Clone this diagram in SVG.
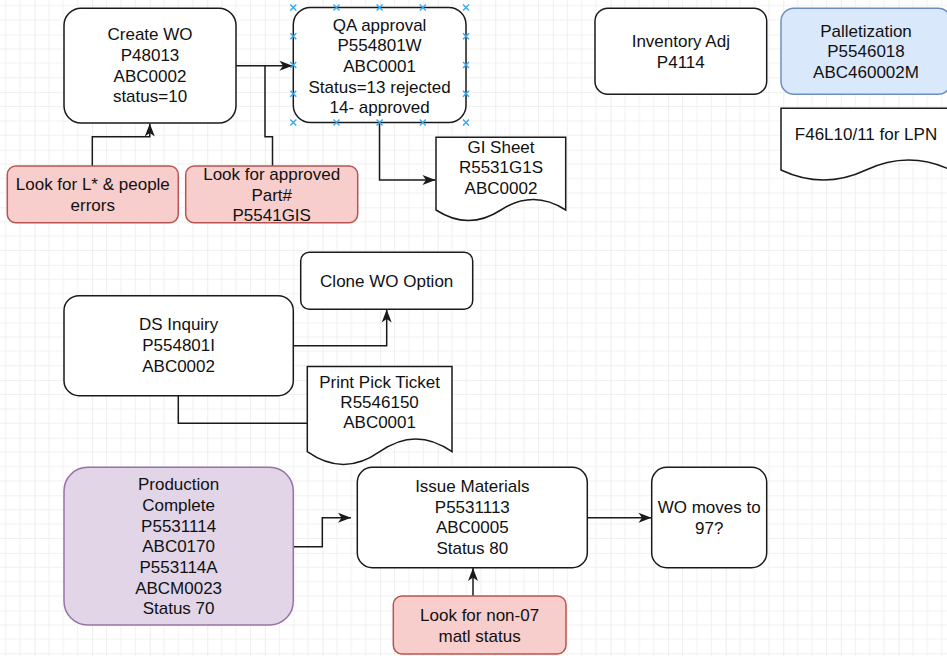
<svg xmlns="http://www.w3.org/2000/svg" width="947" height="656" viewBox="0 0 947 656">
  <style>
    .box { fill: #ffffff; stroke: #1a1a1a; stroke-width: 1.5; }
    .warn { fill: #f8cecc; stroke: #b85450; stroke-width: 1.5; }
    .blue { fill: #dae8fc; stroke: #6c8ebf; stroke-width: 1.5; }
    .purple { fill: #e1d5e7; stroke: #9673a6; stroke-width: 1.5; }
    .lbl { font-family: "Liberation Sans", Arial, sans-serif; font-size: 17px; fill: #111111; text-anchor: middle; }
    .edge { fill: none; stroke: #1a1a1a; stroke-width: 1.5; }
    .pt { fill: none; stroke: #35a8ee; stroke-width: 1.4; }
  </style>
  <defs>
    <pattern id="grid" patternUnits="userSpaceOnUse" x="34.5" y="34.5" width="57.6" height="57.6">
      <path d="M14.4,0 V57.6 M28.8,0 V57.6 M43.2,0 V57.6 M0,14.4 H57.6 M0,28.8 H57.6 M0,43.2 H57.6" stroke="#f1f1f1" stroke-width="1" fill="none"/>
      <path d="M0,0 V57.6 M0,0 H57.6" stroke="#e2e2e2" stroke-width="1.2" fill="none"/>
    </pattern>
    <marker id="arrow" markerUnits="userSpaceOnUse" markerWidth="15" markerHeight="12" refX="14" refY="6" orient="auto">
      <path d="M1,1 L14,6 L1,11 L4.5,6 Z" fill="#1a1a1a"/>
    </marker>
    <path id="cross" d="M-3,-3 L3,3 M-3,3 L3,-3"/>
  </defs>

  <rect x="0" y="0" width="947" height="656" fill="#ffffff"/>
  <rect x="0" y="0" width="947" height="656" fill="url(#grid)"/>

  <!-- connectors -->
  <g id="connectors">
    <path class="edge" d="M236,65.7 H292.5" marker-end="url(#arrow)"/>
    <path class="edge" d="M272.5,166 V136.7 H265 V65.7"/>
    <path class="edge" d="M92.3,166 V136.7 H149.8 V123.5" marker-end="url(#arrow)"/>
    <path class="edge" d="M379.5,122.5 V180 H435.5" marker-end="url(#arrow)"/>
    <path class="edge" d="M293.3,345.7 H386.7 V309.5" marker-end="url(#arrow)"/>
    <path class="edge" d="M178.3,395.7 V423.3 H307.3"/>
    <path class="edge" d="M293.3,546.7 H322.3 V517.7 H351" marker-end="url(#arrow)"/>
    <path class="edge" d="M587.3,517.7 H651.5" marker-end="url(#arrow)"/>
    <path class="edge" d="M473,596 V568" marker-end="url(#arrow)"/>
  </g>

  <g id="create-wo">
    <rect class="box" x="64" y="8.3" width="172" height="114.7" rx="17.2"/>
    <text class="lbl"><tspan x="150" y="40">Create WO</tspan><tspan x="150" y="60.8">P48013</tspan><tspan x="150" y="81.6">ABC0002</tspan><tspan x="150" y="102.4">status=10</tspan></text>
  </g>

  <g id="qa-approval">
    <rect class="box" x="293.3" y="7.5" width="172.7" height="115" rx="17.2"/>
    <text class="lbl"><tspan x="379.6" y="30.5">QA approval</tspan><tspan x="379.6" y="51.2">P554801W</tspan><tspan x="379.6" y="71.9">ABC0001</tspan><tspan x="379.6" y="92.6">Status=13 rejected</tspan><tspan x="379.6" y="113.3">14- approved</tspan></text>
    <g class="pt">
      <use href="#cross" x="293.3" y="7.5"/><use href="#cross" x="336.5" y="7.5"/><use href="#cross" x="379.6" y="7.5"/><use href="#cross" x="422.8" y="7.5"/><use href="#cross" x="466" y="7.5"/>
      <use href="#cross" x="293.3" y="122.5"/><use href="#cross" x="336.5" y="122.5"/><use href="#cross" x="379.6" y="122.5"/><use href="#cross" x="422.8" y="122.5"/><use href="#cross" x="466" y="122.5"/>
      <use href="#cross" x="293.3" y="36.2"/><use href="#cross" x="293.3" y="65"/><use href="#cross" x="293.3" y="93.8"/>
      <use href="#cross" x="466" y="36.2"/><use href="#cross" x="466" y="65"/><use href="#cross" x="466" y="93.8"/>
    </g>
  </g>

  <g id="inventory-adj">
    <rect class="box" x="595" y="8.3" width="171.7" height="86" rx="12.9"/>
    <text class="lbl"><tspan x="680.8" y="47">Inventory Adj</tspan><tspan x="680.8" y="67.7">P4114</tspan></text>
  </g>

  <g id="palletization">
    <rect class="blue" x="781" y="8.3" width="170" height="86" rx="12.9"/>
    <text class="lbl"><tspan x="866" y="36.6">Palletization</tspan><tspan x="866" y="57.3">P5546018</tspan><tspan x="866" y="78">ABC460002M</tspan></text>
  </g>

  <g id="lpn-doc">
    <path class="box" d="M781,108.3 H951 V170 Q908.5,150 866,170 Q823.5,190 781,170 Z"/>
    <text class="lbl"><tspan x="866" y="140.3">F46L10/11 for LPN</tspan></text>
  </g>

  <g id="gi-sheet">
    <path class="box" d="M436,137.3 H565.7 V210 Q533.3,189 500.9,210 Q468.4,231 436,210 Z"/>
    <text class="lbl"><tspan x="501" y="152.7">GI Sheet</tspan><tspan x="501" y="173.4">R5531G1S</tspan><tspan x="501" y="194.1">ABC0002</tspan></text>
  </g>

  <g id="look-people-errors">
    <rect class="warn" x="7.3" y="166" width="171" height="56.7" rx="8.5"/>
    <text class="lbl"><tspan x="92.8" y="190">Look for L* &amp; people</tspan><tspan x="92.8" y="210.7">errors</tspan></text>
  </g>

  <g id="look-approved-part">
    <rect class="warn" x="185.7" y="166" width="172" height="56.7" rx="8.5"/>
    <text class="lbl"><tspan x="271.7" y="180">Look for approved</tspan><tspan x="271.7" y="200.7">Part#</tspan><tspan x="271.7" y="221.4">P5541GIS</tspan></text>
  </g>

  <g id="clone-wo">
    <rect class="box" x="300.7" y="252.3" width="172" height="57" rx="8.6"/>
    <text class="lbl"><tspan x="386.7" y="286.7">Clone WO Option</tspan></text>
  </g>

  <g id="ds-inquiry">
    <rect class="box" x="64" y="295.7" width="229.3" height="100" rx="15"/>
    <text class="lbl"><tspan x="178.6" y="330.3">DS Inquiry</tspan><tspan x="178.6" y="351">P554801I</tspan><tspan x="178.6" y="371.7">ABC0002</tspan></text>
  </g>

  <g id="pick-ticket">
    <path class="box" d="M307.3,366.5 H452 V451.7 Q415.8,426.1 379.7,451.7 Q343.5,477.3 307.3,451.7 Z"/>
    <text class="lbl"><tspan x="379.6" y="388">Print Pick Ticket</tspan><tspan x="379.6" y="408.2">R5546150</tspan><tspan x="379.6" y="428.4">ABC0001</tspan></text>
  </g>

  <g id="production-complete">
    <rect class="purple" x="64" y="467.3" width="229.3" height="157.7" rx="23.7"/>
    <text class="lbl"><tspan x="178.6" y="490.3">Production</tspan><tspan x="178.6" y="511">Complete</tspan><tspan x="178.6" y="531.6">P5531114</tspan><tspan x="178.6" y="552.3">ABC0170</tspan><tspan x="178.6" y="573">P553114A</tspan><tspan x="178.6" y="593.6">ABCM0023</tspan><tspan x="178.6" y="614.3">Status 70</tspan></text>
  </g>

  <g id="issue-materials">
    <rect class="box" x="357.3" y="467.3" width="230" height="100.4" rx="15"/>
    <text class="lbl"><tspan x="472.3" y="492">Issue Materials</tspan><tspan x="472.3" y="512.7">P5531113</tspan><tspan x="472.3" y="533.4">ABC0005</tspan><tspan x="472.3" y="554.1">Status 80</tspan></text>
  </g>

  <g id="wo-moves">
    <rect class="box" x="651.7" y="467.3" width="115" height="100.4" rx="15"/>
    <text class="lbl"><tspan x="709.2" y="513.3">WO moves to</tspan><tspan x="709.2" y="534">97?</tspan></text>
  </g>

  <g id="look-non07">
    <rect class="warn" x="393.3" y="596" width="172.7" height="58" rx="8.7"/>
    <text class="lbl"><tspan x="479.6" y="621">Look for non-07</tspan><tspan x="479.6" y="641.5">matl status</tspan></text>
  </g>
</svg>
